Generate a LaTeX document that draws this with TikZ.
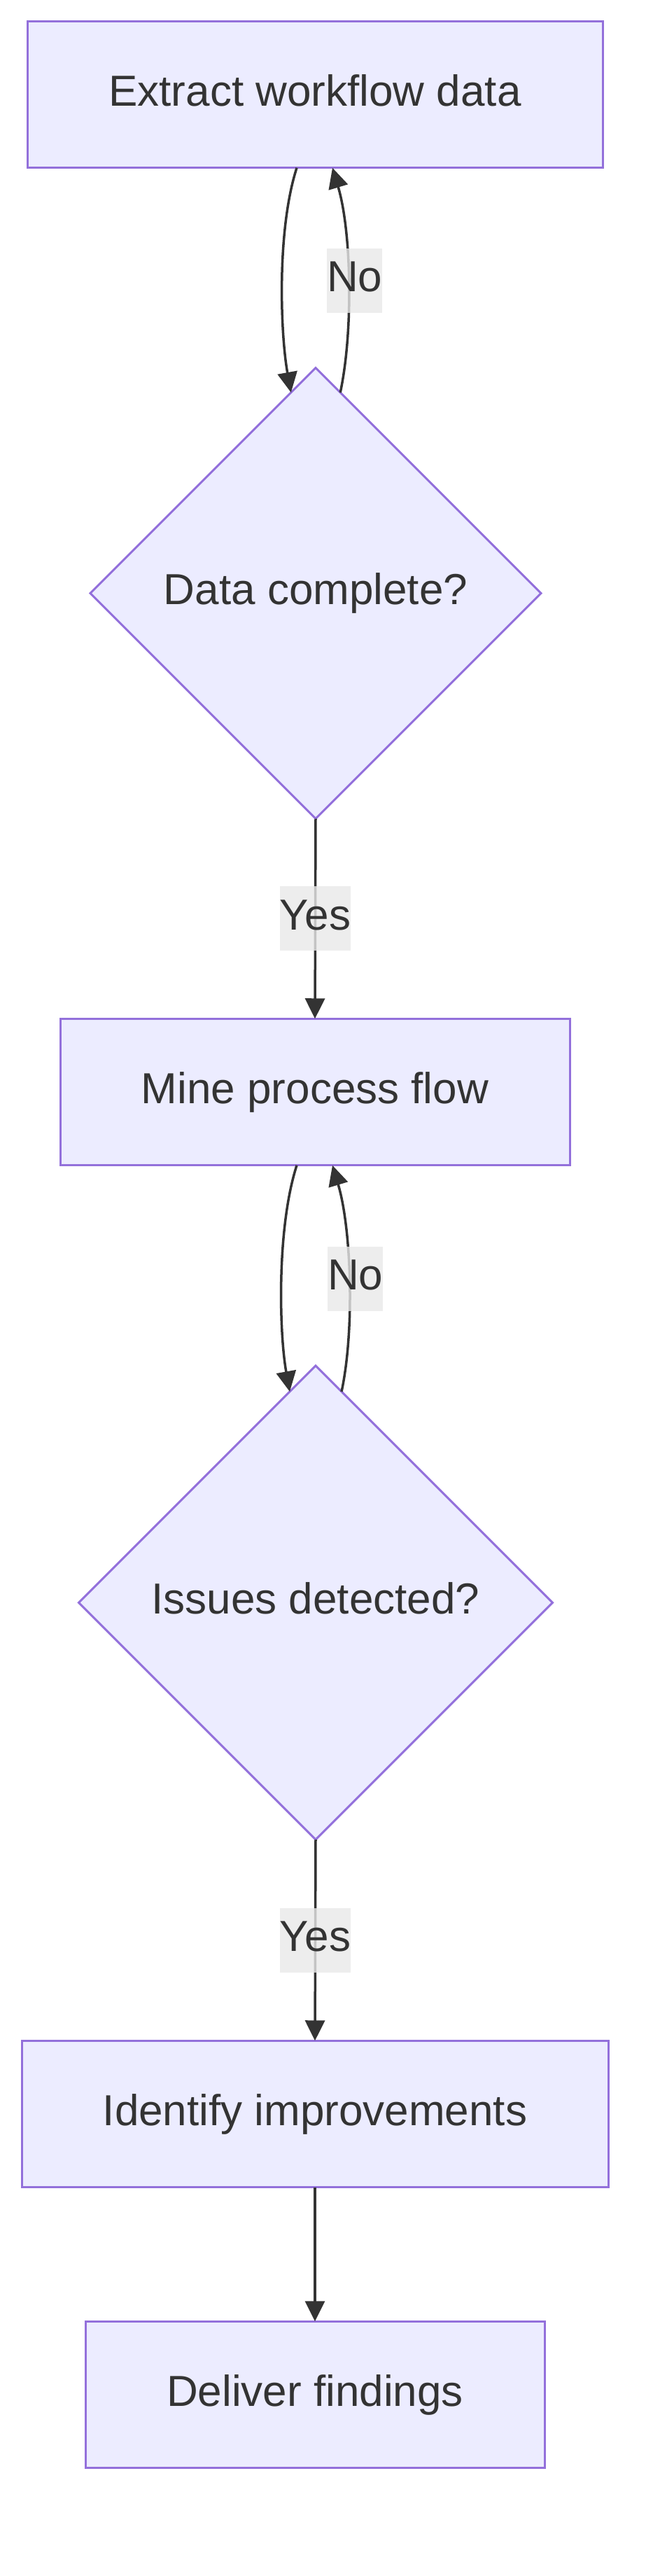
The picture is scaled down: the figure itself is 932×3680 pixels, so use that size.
\documentclass[tikz,border=0pt]{standalone}
\usepackage{fontspec}
\setmainfont{Liberation Sans}
\usetikzlibrary{shapes.geometric,arrows.meta}
\definecolor{nodefill}{HTML}{ECECFF}
\definecolor{nodeline}{HTML}{9370DB}
\definecolor{txt}{HTML}{333333}
\definecolor{lblbg}{HTML}{E8E8E8}
\begin{document}
\begin{tikzpicture}[x=1pt,y=-1pt,
  every node/.style={font=\fontsize{62}{74}\selectfont, text=txt, text height=46pt, text depth=14pt},
  box/.style={draw=nodeline, fill=nodefill, line width=3pt, rectangle, inner sep=0pt, outer sep=0pt, minimum height=209.5pt},
  dec/.style={draw=nodeline, fill=nodefill, line width=3pt, diamond, aspect=1, inner sep=0pt, outer sep=0pt},
  arr/.style={draw=txt, line width=3.5pt, -{Triangle[length=29pt,width=28pt]}},
  lbl/.style={fill=lblbg, fill opacity=0.8, text opacity=1, inner sep=0pt, minimum height=92pt}
]
\useasboundingbox (0,0) rectangle (932,3680);
\node[box, minimum width=822pt] (b1) at (450,135) {Extract workflow data};
\node[dec, minimum width=644pt, minimum height=644pt] (d1) at (451,847.5) {Data complete?};
\node[box, minimum width=728pt] (b2) at (450,1560) {Mine process flow};
\node[dec, minimum width=677pt, minimum height=677pt] (d2) at (451,2289.5) {Issues detected?};
\node[box, minimum width=838pt] (b3) at (450,3020) {Identify improvements};
\node[box, minimum width=656pt] (b4) at (450,3421) {Deliver findings};

\draw[arr] ([xshift=-26pt]b1.south) .. controls +(-29,90) and +(-15,-83) .. (d1.97.6);
\draw[arr] (d1.83.1) .. controls +(19,-89) and +(27,90) .. ([xshift=25pt]b1.south) node[lbl, pos=0.5, xshift=9pt] {No};
\draw[arr] (d1.south) -- (b2.north) node[lbl, midway] {Yes};

\draw[arr] ([xshift=-26pt]b2.south) .. controls +(-29,90) and +(-15,-83) .. (d2.97.2);
\draw[arr] (d2.83.2) .. controls +(19,-89) and +(27,90) .. ([xshift=25pt]b2.south) node[lbl, pos=0.5, xshift=9pt] {No};
\draw[arr] (d2.south) -- (b3.north) node[lbl, midway] {Yes};

\draw[arr] (b3.south) -- (b4.north);
\end{tikzpicture}
\end{document}
